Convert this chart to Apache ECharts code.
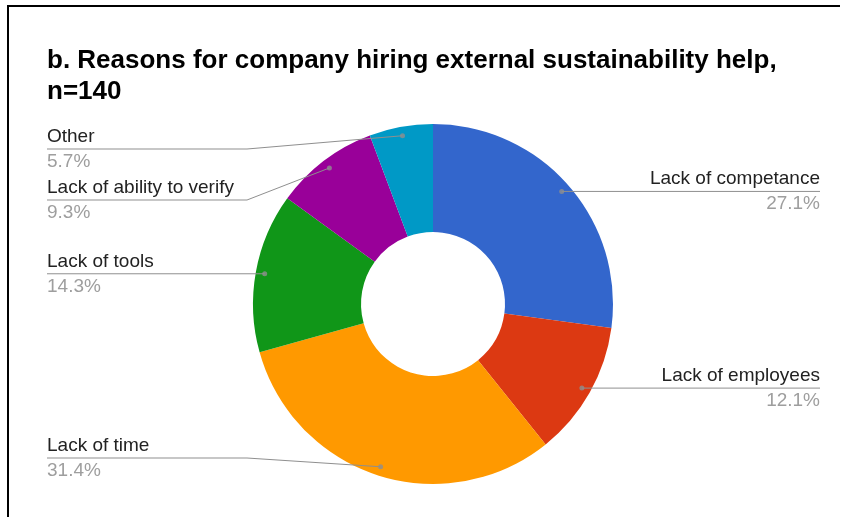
<!DOCTYPE html>
<html>
<head>
<meta charset="utf-8">
<script src="https://cdn.jsdelivr.net/npm/echarts@6/dist/echarts.min.js"></script>
<style>
  html, body { margin: 0; padding: 0; background: #fff; }
  #chart { width: 846px; height: 517px; }
</style>
</head>
<body>
<div id="chart"></div>
<script>
// ---- data ----
const titleLines = ['b. Reasons for company hiring external sustainability help,', 'n=140'];
const reasons = ['Lack of competance', 'Lack of employees', 'Lack of time', 'Lack of tools', 'Lack of ability to verify', 'Other'];
const shares = [27.1, 12.1, 31.4, 14.3, 9.3, 5.7];
const sliceColors = ['#3366cc', '#dc3912', '#ff9900', '#109618', '#990099', '#0099c6'];

// ---- layout ----
const FONT = '"Liberation Sans", Arial, sans-serif';
const CX = 433, CY = 304, R_OUT = 180, R_IN = 72;
const R_DOT = 171;          // leader lines start a little inside the ring
const ELBOW = 186;          // horizontal distance from centre to the leader elbow
const LABEL_LEFT = 47, LABEL_RIGHT = 820;
const LINE_MIN_Y = 149, LINE_MAX_Y = 458, LABEL_GAP = 51;

const total = shares.reduce((a, b) => a + b, 0);

// leader anchor for each slice, at the middle of its angle
let acc = 0;
const anchors = shares.map((v, i) => {
  const mid = acc + v / 2;
  acc += v;
  const a = mid / total * Math.PI * 2;
  const x = CX + R_DOT * Math.sin(a);
  const y = CY - R_DOT * Math.cos(a);
  return { i, mid, x, y, left: Math.sin(a) < 0, lineY: y };
});

// keep each side's labels inside the band and apart from each other
function stack(side) {
  side.sort((p, q) => p.y - q.y);
  side.forEach((p, k) => {
    let y = Math.min(Math.max(p.y, LINE_MIN_Y), LINE_MAX_Y);
    if (k > 0) y = Math.max(y, side[k - 1].lineY + LABEL_GAP);
    p.lineY = y;
  });
  const n = side.length;
  if (n) side[n - 1].lineY = Math.min(side[n - 1].lineY, LINE_MAX_Y);
  for (let k = n - 2; k >= 0; k--) {
    side[k].lineY = Math.min(side[k].lineY, side[k + 1].lineY - LABEL_GAP);
  }
}
stack(anchors.filter(p => p.left));
stack(anchors.filter(p => !p.left));

const pieData = reasons.map((name, i) => ({
  name,
  value: shares[i],
  itemStyle: { color: sliceColors[i] }
}));

const chart = echarts.init(document.getElementById('chart'), null, { renderer: 'canvas' });

chart.setOption({
  animation: false,
  backgroundColor: '#fff',
  title: {
    text: titleLines.join('\n'),
    left: 47,
    top: 45,
    padding: 0,
    textStyle: {
      fontFamily: FONT,
      fontSize: 26,
      fontWeight: 'bold',
      color: '#000',
      lineHeight: 31
    }
  },
  graphic: [{
    type: 'polyline',
    silent: true,
    shape: { points: [[8, 517], [8, 6], [840, 6]] },
    style: { stroke: '#000', lineWidth: 2, fill: null }
  }],
  polar: { center: [CX, CY], radius: R_OUT },
  angleAxis: {
    type: 'value', min: 0, max: total, startAngle: 90, clockwise: true,
    show: false, splitLine: { show: false }
  },
  radiusAxis: {
    type: 'value', min: 0, max: R_OUT,
    show: false, splitLine: { show: false }
  },
  series: [
    // the ring itself
    {
      type: 'pie',
      silent: true,
      z: 2,
      center: [CX, CY],
      radius: [R_IN, R_OUT],
      startAngle: 90,
      clockwise: true,
      itemStyle: { borderWidth: 0 },
      label: { show: false },
      labelLine: { show: false },
      data: pieData
    },
    // same slices, invisible, carrying the labels and leader lines above the ring
    {
      type: 'pie',
      silent: true,
      z: 3,
      center: [CX, CY],
      radius: [R_IN, R_OUT],
      startAngle: 90,
      clockwise: true,
      avoidLabelOverlap: false,
      itemStyle: { color: 'rgba(0,0,0,0)', borderWidth: 0 },
      data: reasons.map((name, i) => ({ name, value: shares[i] })),
      label: {
        show: true,
        position: 'outer',
        alignTo: 'none',
        fontFamily: FONT,
        formatter: p => `{name|${p.name}}\n{pct|${p.value.toFixed(1)}%}`,
        rich: {
          name: { fontFamily: FONT, fontSize: 19, color: '#222', lineHeight: 25 },
          pct: { fontFamily: FONT, fontSize: 19, color: '#9e9e9e', lineHeight: 25 }
        }
      },
      labelLine: {
        show: true,
        length: 5,
        length2: 5,
        lineStyle: { color: '#8f8f8f', width: 1 }
      },
      labelLayout: p => {
        const a = anchors[p.dataIndex];
        const ex = a.left ? LABEL_LEFT : LABEL_RIGHT;
        const bx = a.left ? CX - ELBOW : CX + ELBOW;
        return {
          x: ex,
          y: a.lineY,
          align: a.left ? 'left' : 'right',
          verticalAlign: 'middle',
          labelLinePoints: [[a.x, a.y], [bx, a.lineY], [ex, a.lineY]]
        };
      }
    },
    // small dots where the leader lines begin
    {
      type: 'scatter',
      coordinateSystem: 'polar',
      silent: true,
      z: 5,
      symbol: 'circle',
      symbolSize: 5,
      itemStyle: { color: '#8f8f8f' },
      data: anchors.map(a => [R_DOT, a.mid])
    }
  ]
});
</script>
</body>
</html>
